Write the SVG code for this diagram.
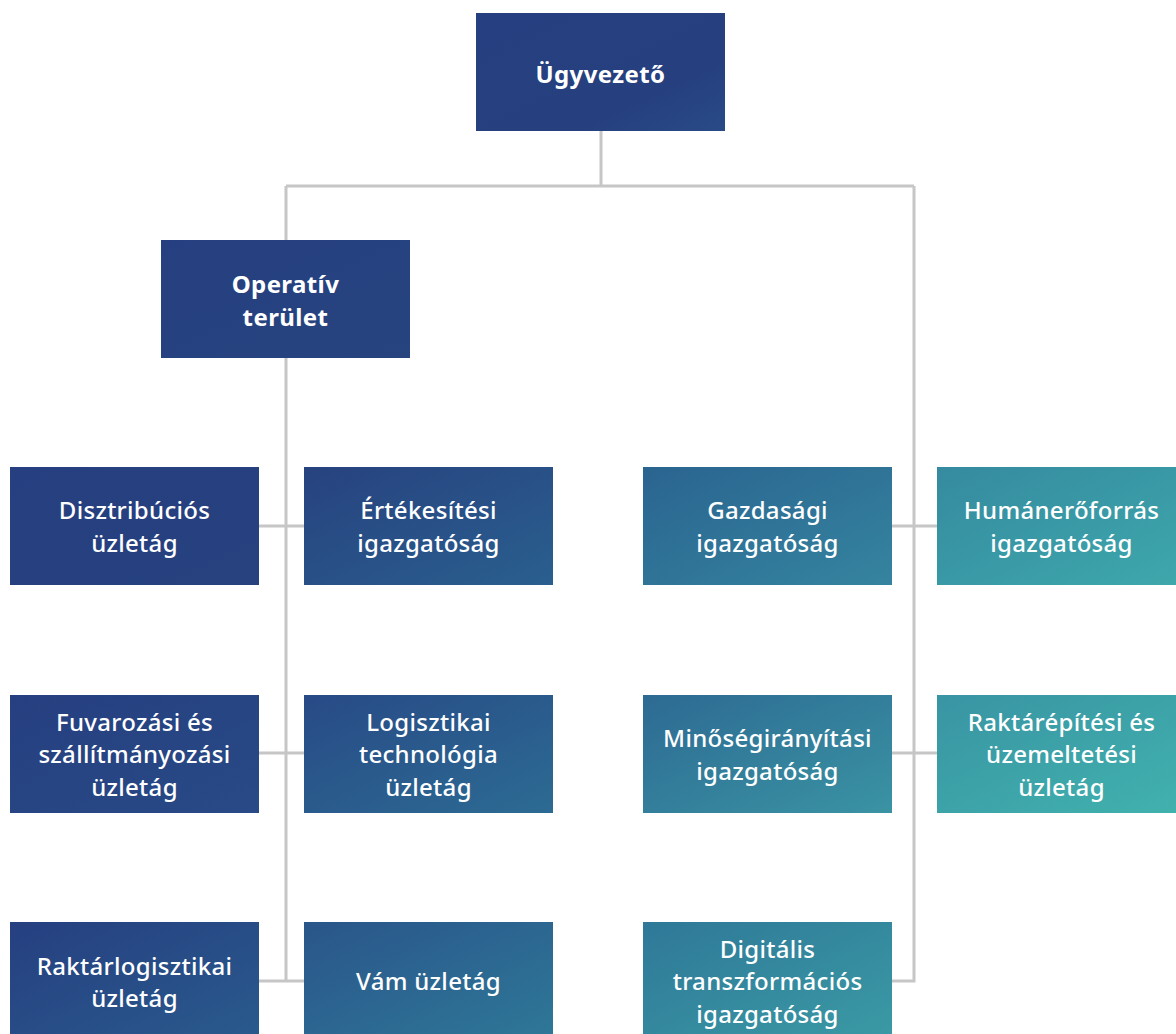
<svg xmlns="http://www.w3.org/2000/svg" width="1176" height="1034" viewBox="0 0 1176 1034">
<style>
.lbl{font-family:"Noto Sans","Open Sans","DejaVu Sans",sans-serif;font-size:24px;font-weight:500;fill:#ffffff;text-anchor:middle;letter-spacing:0.3px}
.bold{font-weight:700;letter-spacing:0.4px}
.conn{stroke:#c6c6c6;stroke-width:3;fill:none}
</style>
<defs>
<linearGradient id="g1" x1="0" y1="0" x2="1" y2="1"><stop offset="0" stop-color="#263f80"/><stop offset="0.7" stop-color="#26407f"/><stop offset="1" stop-color="#294a87"/></linearGradient>
<linearGradient id="g2" x1="0" y1="0" x2="1" y2="1"><stop offset="0" stop-color="#263f80"/><stop offset="1" stop-color="#27447f"/></linearGradient>
<linearGradient id="g3" x1="0" y1="0" x2="1" y2="1"><stop offset="0" stop-color="#263f80"/><stop offset="1" stop-color="#27427f"/></linearGradient>
<linearGradient id="g4" x1="0" y1="0" x2="1" y2="1"><stop offset="0" stop-color="#27427f"/><stop offset="1" stop-color="#2a5f8f"/></linearGradient>
<linearGradient id="g5" x1="0" y1="0" x2="1" y2="1"><stop offset="0" stop-color="#2a6490"/><stop offset="1" stop-color="#35849f"/></linearGradient>
<linearGradient id="g6" x1="0" y1="0" x2="1" y2="1"><stop offset="0" stop-color="#358a9f"/><stop offset="1" stop-color="#3ea8ac"/></linearGradient>
<linearGradient id="g7" x1="0" y1="0" x2="1" y2="1"><stop offset="0" stop-color="#263f80"/><stop offset="1" stop-color="#284a86"/></linearGradient>
<linearGradient id="g8" x1="0" y1="0" x2="1" y2="1"><stop offset="0" stop-color="#284a86"/><stop offset="1" stop-color="#2c6b93"/></linearGradient>
<linearGradient id="g9" x1="0" y1="0" x2="1" y2="1"><stop offset="0" stop-color="#2d6a93"/><stop offset="1" stop-color="#3a93a3"/></linearGradient>
<linearGradient id="g10" x1="0" y1="0" x2="1" y2="1"><stop offset="0" stop-color="#3994a3"/><stop offset="1" stop-color="#41b2ae"/></linearGradient>
<linearGradient id="g11" x1="0" y1="0" x2="1" y2="1"><stop offset="0" stop-color="#263f80"/><stop offset="1" stop-color="#295a8d"/></linearGradient>
<linearGradient id="g12" x1="0" y1="0" x2="1" y2="1"><stop offset="0" stop-color="#2a558a"/><stop offset="1" stop-color="#2e7898"/></linearGradient>
<linearGradient id="g13" x1="0" y1="0" x2="1" y2="1"><stop offset="0" stop-color="#2f7898"/><stop offset="1" stop-color="#3a9aa4"/></linearGradient>
</defs>
<rect width="1176" height="1034" fill="#ffffff"/>
<g id="connectors">
<path class="conn" d="M601 131 V186 M286 186 H914 M286 186 V240"/>
<path class="conn" d="M286 358 V981 M259 526 H304 M259 753 H304 M259 981 H304"/>
<path class="conn" d="M914 186 V981 H892 M892 526 H937 M892 753 H937"/>
</g>
<g id="n-ugyvezeto"><rect x="476" y="13" width="249" height="118" fill="url(#g1)"/><text class="lbl bold" x="600.5" y="83">Ügyvezető</text></g>
<g id="n-operativ"><rect x="161" y="240" width="249" height="118" fill="url(#g2)"/><text class="lbl bold" x="285.5" y="293">Operatív</text><text class="lbl bold" x="285.5" y="326">terület</text></g>
<g id="n-disztrib"><rect x="10" y="467" width="249" height="118" fill="url(#g3)"/><text class="lbl" x="134.5" y="519">Disztribúciós</text><text class="lbl" x="134.5" y="552">üzletág</text></g>
<g id="n-ertekesitesi"><rect x="304" y="467" width="249" height="118" fill="url(#g4)"/><text class="lbl" x="428.5" y="519">Értékesítési</text><text class="lbl" x="428.5" y="552">igazgatóság</text></g>
<g id="n-gazdasagi"><rect x="643" y="467" width="249" height="118" fill="url(#g5)"/><text class="lbl" x="767.5" y="519">Gazdasági</text><text class="lbl" x="767.5" y="552">igazgatóság</text></g>
<g id="n-human"><rect x="937" y="467" width="249" height="118" fill="url(#g6)"/><text class="lbl" x="1061.5" y="519">Humánerőforrás</text><text class="lbl" x="1061.5" y="552">igazgatóság</text></g>
<g id="n-fuvarozasi"><rect x="10" y="695" width="249" height="118" fill="url(#g7)"/><text class="lbl" x="134.5" y="731">Fuvarozási és</text><text class="lbl" x="134.5" y="763">szállítmányozási</text><text class="lbl" x="134.5" y="796">üzletág</text></g>
<g id="n-logisztikai"><rect x="304" y="695" width="249" height="118" fill="url(#g8)"/><text class="lbl" x="428.5" y="731">Logisztikai</text><text class="lbl" x="428.5" y="763">technológia</text><text class="lbl" x="428.5" y="796">üzletág</text></g>
<g id="n-minoseg"><rect x="643" y="695" width="249" height="118" fill="url(#g9)"/><text class="lbl" x="767.5" y="747">Minőségirányítási</text><text class="lbl" x="767.5" y="780">igazgatóság</text></g>
<g id="n-raktarepitesi"><rect x="937" y="695" width="249" height="118" fill="url(#g10)"/><text class="lbl" x="1061.5" y="731">Raktárépítési és</text><text class="lbl" x="1061.5" y="763">üzemeltetési</text><text class="lbl" x="1061.5" y="796">üzletág</text></g>
<g id="n-raktarlog"><rect x="10" y="922" width="249" height="118" fill="url(#g11)"/><text class="lbl" x="134.5" y="975">Raktárlogisztikai</text><text class="lbl" x="134.5" y="1007">üzletág</text></g>
<g id="n-vam"><rect x="304" y="922" width="249" height="118" fill="url(#g12)"/><text class="lbl" x="428.5" y="990">Vám üzletág</text></g>
<g id="n-digitalis"><rect x="643" y="922" width="249" height="118" fill="url(#g13)"/><text class="lbl" x="767.5" y="958">Digitális</text><text class="lbl" x="767.5" y="990">transzformációs</text><text class="lbl" x="767.5" y="1023">igazgatóság</text></g>
</svg>
